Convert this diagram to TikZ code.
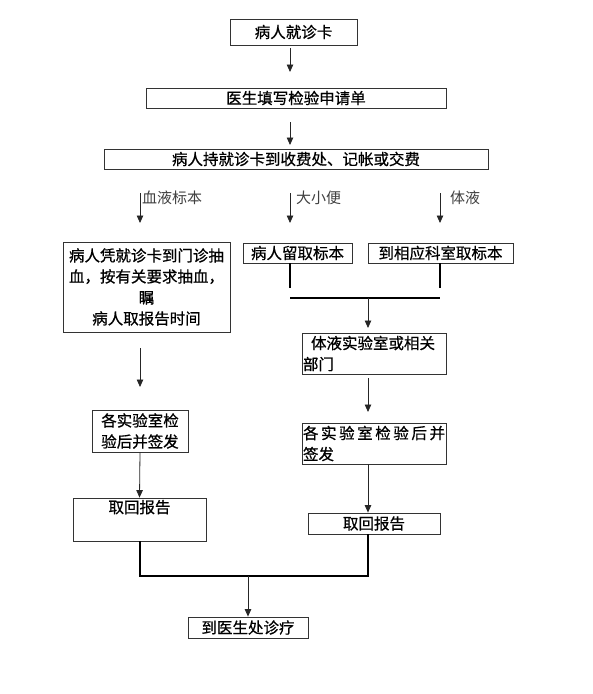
\documentclass[tikz,border=0pt]{standalone}
\usepackage{fontspec}
\newfontfamily\cjk{Noto Sans CJK SC}
\newfontfamily\cjkb{Noto Sans CJK SC}[FakeBold=0.7]
\usetikzlibrary{arrows.meta}
\begin{document}
\begin{tikzpicture}[x=1pt,y=-1pt,
  box/.style={draw=black!80, line width=0.8pt, inner sep=0pt, font=\cjkb\fontsize{15.5}{21}\selectfont, text=black},
  arr/.style={draw=black!85, line width=0.8pt, -{Triangle[width=6.5pt,length=7.5pt]}},
  thick line/.style={draw=black, line width=2pt},
  lbl/.style={anchor=west, inner sep=0pt, font=\cjk\fontsize{15}{18}\selectfont, text=black!75}]
\useasboundingbox (0,0) rectangle (593,694);
% boxes
\node[box, minimum width=127pt, minimum height=26pt] (b1) at (293.5,32) {病人就诊卡};
\node[box, minimum width=300pt, minimum height=20pt] (b2) at (296,98) {医生填写检验申请单};
\node[box, minimum width=384pt, minimum height=20pt] (b3) at (296,159) {病人持就诊卡到收费处、记帐或交费};
\node[box, minimum width=167pt, minimum height=90pt, text width=163pt, align=center] (l1) at (146.5,287)
  {病人凭就诊卡到门诊抽\\血，按有关要求抽血，\\瞩\\病人取报告时间};
\node[box, minimum width=109pt, minimum height=20pt] (u) at (297.5,253) {病人留取标本};
\node[box, minimum width=145pt, minimum height=20pt] (t) at (440.5,253) {到相应科室取标本};
\node[box, minimum width=144pt, minimum height=41pt, text width=142pt, align=left] (r1) at (374,353.5)
  {\hspace*{8pt}体液实验室或相关\\部门};
\node[box, minimum width=144pt, minimum height=41pt, text width=142pt, align=left] (r2) at (374,443.5)
  {\makebox[142pt][s]{各\hfill 实\hfill 验\hfill 室\hfill 检\hfill 验\hfill 后\hfill 并}\\签发};
\node[box, minimum width=132pt, minimum height=21pt] (r3) at (374,523.5) {取回报告};
\node[box, minimum width=96pt, minimum height=42pt, align=center] (l2) at (140,431) {各实验室检\\验后并签发};
\node[box, minimum width=133pt, minimum height=43pt,
  label={[box, draw=none, anchor=north, yshift=-2pt]north:取回报告}] (l3) at (139.5,519.5) {};
\node[box, minimum width=120pt, minimum height=21pt] (f) at (248,627.5) {到医生处诊疗};
% free-end coordinates
\coordinate (a1s) at (290,48);  \coordinate (a1e) at (290,72);
\coordinate (a2s) at (290,122); \coordinate (a2e) at (290,145);
\coordinate (s1s) at (140,193); \coordinate (s1e) at (140,223);
\coordinate (s2s) at (290,193); \coordinate (s2e) at (290,223);
\coordinate (s3s) at (440,193); \coordinate (s3e) at (440,223);
\coordinate (m1) at (290,288); \coordinate (m2) at (440,288);
\coordinate (h1) at (290,298); \coordinate (h2) at (440,298);
\coordinate (ms) at (368,298); \coordinate (me) at (368,328);
\coordinate (rs) at (368,378); \coordinate (re) at (368,412);
\coordinate (ls) at (140,348); \coordinate (le) at (140,387);
\coordinate (jx) at (368,576); \coordinate (jl) at (140,576); \coordinate (jm) at (248,576);
% arrows
\draw[arr] (a1s) -- (a1e);
\draw[arr] (a2s) -- (a2e);
\draw[arr] (s1s) -- (s1e);
\draw[arr] (s2s) -- (s2e);
\draw[arr] (s3s) -- (s3e);
\node[lbl] (lb1) at (142,198) {血液标本};
\node[lbl] (lb2) at (296,198) {大小便};
\node[lbl] (lb3) at (450,198) {体液};
\draw[thick line] (u.south -| m1) -- (m1);
\draw[thick line] (t.south -| m2) -- (m2);
\draw[thick line] (h1) -- (h2);
\draw[arr] (ms) -- (me);
\draw[arr] (rs) -- (re);
\draw[arr] (r2.south -| ms) -- (r3.north -| ms);
\draw[arr] (ls) -- (le);
\draw[arr] (l2.south) -- (l3.north);
\draw[thick line] (l3.south -| jl) -- (jl) -- (jx) -- (r3.south -| jx);
\draw[arr] (jm) -- (f.north);
\end{tikzpicture}
\end{document}
